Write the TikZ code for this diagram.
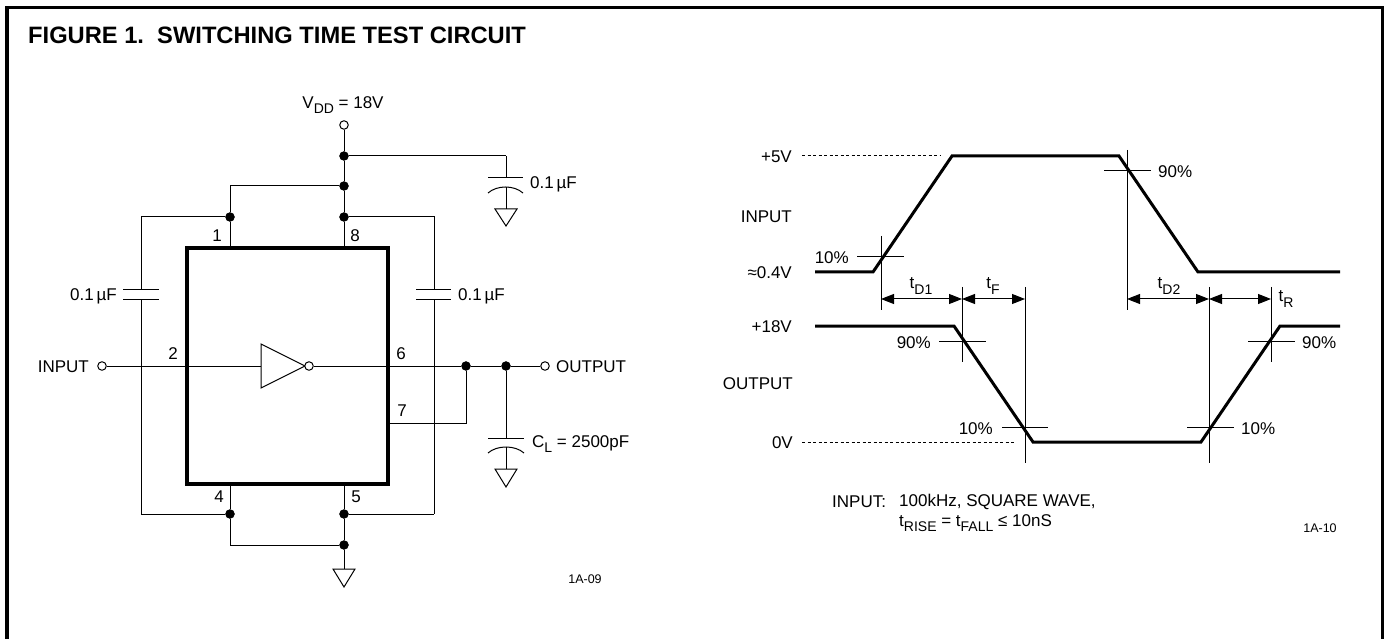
\documentclass[tikz,border=0pt]{standalone}
\usepackage{fontspec}
\setmainfont{Liberation Sans}
\usetikzlibrary{arrows.meta}
\newcommand{\lowtxt}[1]{\raisebox{-0.3em}{\fontsize{14}{14}\selectfont #1}}

\begin{document}
\begin{tikzpicture}
[x=1pt,y=-1pt,
bullet/.style={circle,draw=black,fill=black,inner sep=0pt,minimum size=9pt},
hollow/.style={circle,draw=black,fill=white,line width=1pt,inner sep=0pt,minimum size=8.5pt},
wire/.style={line width=1pt,line join=miter},
plate/.style={line width=1pt},
heavy/.style={line width=3pt,line join=miter},
dimline/.style={line width=1pt,{Triangle[length=13pt,width=10pt]}-{Triangle[length=13pt,width=10pt]}},
txt/.style={font=\fontsize{17}{20}\selectfont,inner sep=0pt},
tiny/.style={font=\fontsize{12.5}{15}\selectfont,inner sep=0pt}]
\useasboundingbox (0,0) rectangle (1385,639);

% frame
\coordinate (fbl) at (7,639);
\coordinate (ftl) at (7,7.5);
\coordinate (ftr) at (1382.5,7.5);
\coordinate (fbr) at (1382.5,639);
\draw [line width=3.5pt] (fbl) -- (ftl) -- (ftr) -- (fbr);
\node[inner sep=0pt,anchor=west,font=\bfseries\fontsize{23.7}{26}\selectfont] (title) at (28,35) {FIGURE 1.\ \ SWITCHING TIME TEST CIRCUIT};

% chip
\node[draw,line width=3.5pt,inner sep=0pt,minimum width=201pt,minimum height=236pt] (chip) at (287.5,366) {};
\coordinate (p1) at (230,248);
\coordinate (p8) at (344,248);
\coordinate (p2) at (187,366);
\coordinate (p6) at (388,366);
\coordinate (p7) at (388,423);
\coordinate (p4) at (230,484);
\coordinate (p5) at (344,484);
\node[txt] (n1) at (217,236) {1};
\node[txt] (n8) at (355,236) {8};
\node[txt] (n2) at (173,354) {2};
\node[txt] (n6) at (401,354) {6};
\node[txt] (n7) at (402,411) {7};
\node[txt] (n4) at (219,497) {4};
\node[txt] (n5) at (356,497) {5};

% inverter
\coordinate (invtop) at (261,344);
\coordinate (invbot) at (261,388);
\coordinate (invin) at (261,366);
\coordinate (invtip) at (305,366);
\draw [wire] (invtop) -- (invtip) -- (invbot) -- cycle;
\node[hollow] (invout) at (309,366) {};

% supply side
\node[hollow] (vdd) at (344,125) {};
\node[txt] (vddlbl) at (343,105) {V\lowtxt{DD} = 18V};
\node[bullet] (t1) at (344,156) {};
\node[bullet] (t2) at (344,186) {};
\node[bullet] (t3) at (344,217) {};
\node[bullet] (t4) at (230,217) {};
\coordinate (c1) at (230,186);
\coordinate (c2) at (506,156);
\coordinate (c3) at (141,217);
\coordinate (c4) at (434,217);
\draw [wire] (vdd) -- (t1);
\draw [wire] (t1) -- (t2);
\draw [wire] (t2) -- (t3);
\draw [wire] (t3) -- (p8);
\draw [wire] (t2) -- (c1) -- (t4);
\draw [wire] (t4) -- (p1);
\draw [wire] (t1) -- (c2);

% decoupling cap, upper right
\coordinate (capa) at (506,178);
\coordinate (capal) at (488,178);
\coordinate (capar) at (523,178);
\coordinate (capb) at (506,187);
\coordinate (capbl) at (488,193);
\coordinate (capbr) at (523,193);
\coordinate (gnda) at (506,209);
\draw [wire] (c2) -- (capa);
\draw [plate] (capal) -- (capar);
\draw [plate] (capbl) .. controls (497,185) and (514,185) .. (capbr);
\draw [wire] (capb) -- (gnda);
\coordinate (gnda1) at (495,209);
\coordinate (gnda2) at (517,209);
\coordinate (gnda3) at (506,226);
\draw [wire] (gnda1) -- (gnda2) -- (gnda3) -- cycle;
\node[txt,anchor=west] (capalbl) at (530,184) {0.1\,µF};

% left cap
\coordinate (lcapa) at (141,289.5);
\coordinate (lcapal) at (123,289.5);
\coordinate (lcapar) at (159,289.5);
\coordinate (lcapb) at (141,300);
\coordinate (lcapbl) at (123,300);
\coordinate (lcapbr) at (159,300);
\coordinate (c5) at (141,514);
\draw [wire] (t4) -- (c3) -- (lcapa);
\draw [plate] (lcapal) -- (lcapar);
\draw [plate] (lcapbl) -- (lcapbr);
\draw [wire] (lcapb) -- (c5);
\node[txt,anchor=east] (lcaplbl) at (117,296) {0.1\,µF};

% right cap
\coordinate (rcapa) at (434,289.5);
\coordinate (rcapal) at (416,289.5);
\coordinate (rcapar) at (451,289.5);
\coordinate (rcapb) at (434,300);
\coordinate (rcapbl) at (416,300);
\coordinate (rcapbr) at (451,300);
\coordinate (c6) at (434,514);
\draw [wire] (t3) -- (c4) -- (rcapa);
\draw [plate] (rcapal) -- (rcapar);
\draw [plate] (rcapbl) -- (rcapbr);
\draw [wire] (rcapb) -- (c6);
\node[txt,anchor=west] (rcaplbl) at (458,296) {0.1\,µF};

% input, output
\node[hollow] (in) at (102,366) {};
\node[txt,anchor=east] (inlbl) at (89,367) {INPUT};
\draw [wire] (in) -- (invin);
\node[bullet] (o1) at (466,366) {};
\node[bullet] (o2) at (506,366) {};
\node[hollow] (out) at (545,366) {};
\node[txt,anchor=west] (outlbl) at (556,367) {OUTPUT};
\coordinate (c7) at (466,423);
\draw [wire] (invout) -- (o1);
\draw [wire] (o1) -- (o2);
\draw [wire] (o2) -- (out);
\draw [wire] (p7) -- (c7) -- (o1);

% load cap
\coordinate (lda) at (506,438);
\coordinate (ldal) at (488,438);
\coordinate (ldar) at (524,438);
\coordinate (ldb) at (506,447);
\coordinate (ldbl) at (488,453);
\coordinate (ldbr) at (524,453);
\coordinate (gndb) at (506,469);
\draw [wire] (o2) -- (lda);
\draw [plate] (ldal) -- (ldar);
\draw [plate] (ldbl) .. controls (497,445) and (515,445) .. (ldbr);
\draw [wire] (ldb) -- (gndb);
\coordinate (gndb1) at (495,469);
\coordinate (gndb2) at (517,469);
\coordinate (gndb3) at (506,487);
\draw [wire] (gndb1) -- (gndb2) -- (gndb3) -- cycle;
\node[txt,anchor=west] (ldlbl) at (532,444) {C\lowtxt{L} = 2500pF};

% ground side
\node[bullet] (b1) at (230,514) {};
\node[bullet] (b2) at (344,514) {};
\node[bullet] (b3) at (344,545) {};
\coordinate (c8) at (230,545);
\coordinate (gndc) at (344,569);
\draw [wire] (p4) -- (b1);
\draw [wire] (p5) -- (b2);
\draw [wire] (b2) -- (b3);
\draw [wire] (b1) -- (c8) -- (b3);
\draw [wire] (b3) -- (gndc);
\draw [wire] (c5) -- (b1);
\draw [wire] (b2) -- (c6);
\coordinate (gndc1) at (333,569);
\coordinate (gndc2) at (355,569);
\coordinate (gndc3) at (344,587);
\draw [wire] (gndc1) -- (gndc2) -- (gndc3) -- cycle;
\node[tiny] (id1) at (585,579) {1A-09};

% input wave
\coordinate (w1) at (815,272);
\coordinate (w2) at (873,272);
\coordinate (w3) at (952,156);
\coordinate (w4) at (1119,156);
\coordinate (w5) at (1198,272);
\coordinate (w6) at (1340,272);
\draw [heavy] (w1) -- (w2) -- (w3) -- (w4) -- (w5) -- (w6);

% output wave
\coordinate (x1) at (815,326);
\coordinate (x2) at (954,326);
\coordinate (x3) at (1033,442);
\coordinate (x4) at (1201,442);
\coordinate (x5) at (1280,326);
\coordinate (x6) at (1340,326);
\draw [heavy] (x1) -- (x2) -- (x3) -- (x4) -- (x5) -- (x6);

% levels
\node[txt,anchor=east] (l5v) at (792,157) {+5V};
\node[txt,anchor=east] (linput) at (792,217) {INPUT};
\node[txt,anchor=east] (l04) at (792,273) {≈0.4V};
\node[txt,anchor=east] (l18) at (792,327) {+18V};
\node[txt,anchor=east] (loutput) at (793,384) {OUTPUT};
\node[txt,anchor=east] (l0v) at (793,443) {0V};
\coordinate (d1) at (802,156);
\coordinate (d2) at (940,156);
\coordinate (d3) at (802,442);
\coordinate (d4) at (1014,442);
\draw [wire,dash pattern=on 3pt off 2.5pt] (d1) -- (d2);
\draw [wire,dash pattern=on 3pt off 2.5pt] (d3) -- (d4);

% time marks
\coordinate (v1a) at (881,236);
\coordinate (v1b) at (881,310);
\coordinate (v1m) at (881,299);
\coordinate (v2a) at (962,287);
\coordinate (v2b) at (962,362);
\coordinate (v2m) at (962,299);
\coordinate (v3a) at (1025,287);
\coordinate (v3b) at (1025,463);
\coordinate (v3m) at (1025,299);
\coordinate (v4a) at (1127,150);
\coordinate (v4b) at (1127,310);
\coordinate (v4m) at (1127,299);
\coordinate (v5a) at (1209,287);
\coordinate (v5b) at (1209,463);
\coordinate (v5m) at (1209,299);
\coordinate (v6a) at (1271,287);
\coordinate (v6b) at (1271,362);
\coordinate (v6m) at (1271,299);
\draw [wire] (v1a) -- (v1b);
\draw [wire] (v2a) -- (v2b);
\draw [wire] (v3a) -- (v3b);
\draw [wire] (v4a) -- (v4b);
\draw [wire] (v5a) -- (v5b);
\draw [wire] (v6a) -- (v6b);
\draw [dimline] (v1m) -- (v2m);
\draw [dimline] (v2m) -- (v3m);
\draw [dimline] (v4m) -- (v5m);
\draw [dimline] (v5m) -- (v6m);
\node[txt] (td1) at (921,286) {t\lowtxt{D1}};
\node[txt] (tf) at (993,286) {t\lowtxt{F}};
\node[txt] (td2) at (1169,286) {t\lowtxt{D2}};
\node[txt] (tr) at (1286,299) {t\lowtxt{R}};

% percent ticks
\coordinate (k1a) at (857,257);
\coordinate (k1b) at (904,257);
\coordinate (k2a) at (939,341);
\coordinate (k2b) at (986,341);
\coordinate (k3a) at (1002,427);
\coordinate (k3b) at (1048,427);
\coordinate (k4a) at (1104,171);
\coordinate (k4b) at (1151,171);
\coordinate (k5a) at (1187,427);
\coordinate (k5b) at (1234,427);
\coordinate (k6a) at (1248,341);
\coordinate (k6b) at (1295,341);
\draw [wire] (k1a) -- (k1b);
\draw [wire] (k2a) -- (k2b);
\draw [wire] (k3a) -- (k3b);
\draw [wire] (k4a) -- (k4b);
\draw [wire] (k5a) -- (k5b);
\draw [wire] (k6a) -- (k6b);
\node[txt,anchor=east] (pc1) at (849,258) {10\%};
\node[txt,anchor=east] (pc2) at (931,343) {90\%};
\node[txt,anchor=east] (pc3) at (993,429) {10\%};
\node[txt,anchor=west] (pc4) at (1158,172) {90\%};
\node[txt,anchor=west] (pc5) at (1241,429) {10\%};
\node[txt,anchor=west] (pc6) at (1302,343) {90\%};

% note
\node[txt,anchor=west] (nt1) at (832,502) {INPUT:};
\node[txt,anchor=west] (nt2) at (899,502) {100kHz, SQUARE WAVE,};
\node[txt,anchor=west] (nt3) at (899,523) {t\lowtxt{RISE} = t\lowtxt{FALL} ≤ 10nS};
\node[tiny] (id2) at (1320,528) {1A-10};
\end{tikzpicture}
\end{document}
